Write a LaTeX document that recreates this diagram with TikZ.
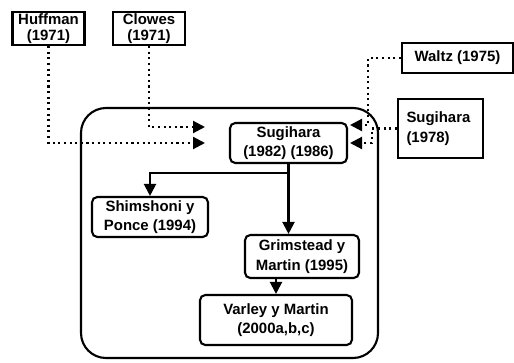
\documentclass[tikz,border=0pt]{standalone}
\usepackage{fontspec}
\setmainfont{Liberation Sans}
\usetikzlibrary{arrows.meta}
\begin{document}
\begin{tikzpicture}[x = 0.02cm, y = -0.02cm, >={Triangle[length=2.4mm,width=2.4mm]},
                    ref/.style = {draw, very thick, inner sep = 0pt, align = center, font = \fontsize{8.5}{11}\selectfont\bfseries},
                    tight/.style = {ref, font = \fontsize{8.5}{9}\selectfont\bfseries},
                    work/.style = {ref, rounded corners = 3pt},
                    link/.style = {dotted, very thick}]
                            \useasboundingbox (0, 0) rectangle (514, 362);
                            \draw[very thick, rounded corners = 0.5cm] (81, 108) rectangle (378, 358);
                            \node[tight, minimum width = 1.44cm, minimum height = 0.66cm] (huffman) at (48.5, 28.5) {Huffman\\(1971)};
                            \node[tight, minimum width = 1.44cm, minimum height = 0.66cm] (clowes) at (149, 28.5) {Clowes\\(1971)};
                            \node[ref, minimum width = 2.22cm, minimum height = 0.6cm] (waltz) at (457.5, 58) {Waltz (1975)};
                            \node[ref, minimum width = 1.7cm, minimum height = 1.18cm, align = left, text width = 1.36cm] (sugA) at (440.5, 128.5) {Sugihara\\(1978)};
                            \node[work, minimum width = 2.34cm, minimum height = 0.8cm] (sugB) at (288.5, 143) {Sugihara\\(1982) (1986)};
                            \node[work, minimum width = 2.32cm, minimum height = 0.8cm] (shim) at (150, 217) {Shimshoni y\\Ponce (1994)};
                            \node[work, minimum width = 2.28cm, minimum height = 0.86cm] (grim) at (302, 256.5) {Grimstead y\\Martin (1995)};
                            \node[work, minimum width = 3.04cm, minimum height = 1cm] (varley) at (276, 320) {Varley y Martin\\(2000a,b,c)};
                            \coordinate (hufend) at (205, 143);
                            \coordinate (cloend) at (205, 127);
                            \coordinate (waltzbend) at (368, 125);
                            \coordinate (waltzend) at (350, 125);
                            \coordinate (sugAbend) at (372, 143);
                            \coordinate (sugAend) at (350, 143);
                            \draw[link, ->] (huffman.south) |- (hufend);
                            \draw[link, ->] (clowes.south) |- (cloend);
                            \draw[link, ->] (waltz.west) -| (waltzbend) -- (waltzend);
                            \draw[link, ->] (sugA.west) -| (sugAbend) -- (sugAend);
                            \draw[->, very thick] (sugB.south) -- ++(0, 9) -| (shim.north);
                            \draw[->, very thick] (sugB.south) -- (sugB.south |- grim.north);
                            \draw[->, very thick] (varley.north |- grim.south) -- (varley.north);
                        \end{tikzpicture}
\end{document}
